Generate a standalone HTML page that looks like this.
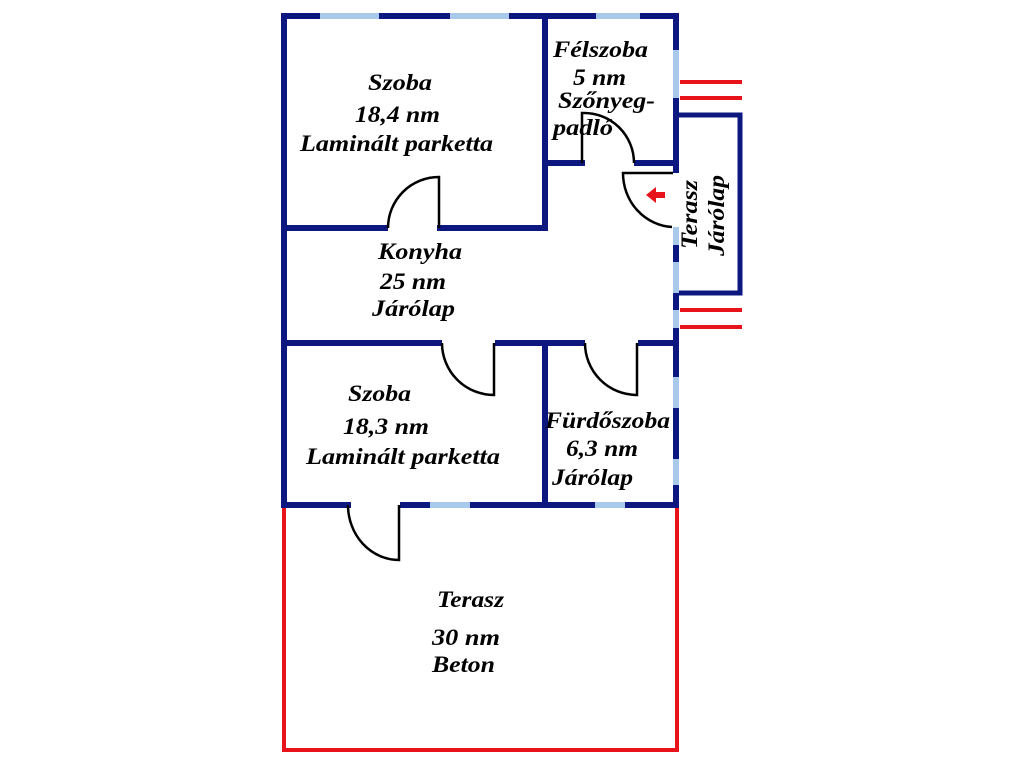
<!DOCTYPE html>
<html><head><meta charset="utf-8"><style>
html,body{margin:0;padding:0;background:#fff;}
svg{display:block}
text{font-family:"Liberation Serif",serif;font-weight:bold;font-style:italic;font-size:23px;fill:#000;}
</style></head><body>
<svg width="1024" height="768" viewBox="0 0 1024 768" xmlns="http://www.w3.org/2000/svg">
<g stroke="#e8141c" stroke-width="4" fill="none">
<polyline points="284,508 284,750 677,750 677,508"/>
<line x1="680" y1="82" x2="742" y2="82"/><line x1="680" y1="98" x2="742" y2="98"/>
<line x1="680" y1="310" x2="742" y2="310"/><line x1="680" y1="327" x2="742" y2="327"/>
</g>
<g stroke="#a9c9ea" stroke-width="6">
<line x1="317" y1="16" x2="382" y2="16"/><line x1="447" y1="16" x2="512" y2="16"/><line x1="593" y1="16" x2="643" y2="16"/>
<line x1="676" y1="50" x2="676" y2="98"/><line x1="676" y1="227" x2="676" y2="245"/><line x1="676" y1="262" x2="676" y2="293"/>
<line x1="676" y1="310" x2="676" y2="328"/><line x1="676" y1="377" x2="676" y2="408"/><line x1="676" y1="459" x2="676" y2="488"/>
<line x1="430" y1="505" x2="470" y2="505"/><line x1="595" y1="505" x2="625" y2="505"/>
</g>
<g stroke="#0c1880" stroke-width="6" fill="none" stroke-linecap="square">
<line x1="284" y1="16" x2="284" y2="505"/>
<line x1="284" y1="16" x2="317" y2="16"/><line x1="382" y1="16" x2="447" y2="16"/><line x1="512" y1="16" x2="593" y2="16"/><line x1="643" y1="16" x2="676" y2="16"/>
<line x1="676" y1="16" x2="676" y2="50" stroke-linecap="butt"/><line x1="676" y1="98" x2="676" y2="173" stroke-linecap="butt"/>
<line x1="676" y1="245" x2="676" y2="262" stroke-linecap="butt"/><line x1="676" y1="293" x2="676" y2="310" stroke-linecap="butt"/>
<line x1="676" y1="328" x2="676" y2="377" stroke-linecap="butt"/><line x1="676" y1="408" x2="676" y2="459" stroke-linecap="butt"/>
<line x1="676" y1="488" x2="676" y2="505"/>
<line x1="284" y1="505" x2="348" y2="505"/><line x1="400" y1="505" x2="430" y2="505" stroke-linecap="butt"/><line x1="470" y1="505" x2="595" y2="505" stroke-linecap="butt"/><line x1="625" y1="505" x2="676" y2="505" stroke-linecap="butt"/>
<line x1="284" y1="343" x2="442" y2="343" stroke-linecap="butt"/><line x1="495" y1="343" x2="585" y2="343" stroke-linecap="butt"/><line x1="638" y1="343" x2="676" y2="343" stroke-linecap="butt"/>
<line x1="545" y1="343" x2="545" y2="505" stroke-linecap="butt"/>
<line x1="284" y1="228" x2="388" y2="228" stroke-linecap="butt"/><line x1="440" y1="228" x2="545" y2="228"/>
<line x1="545" y1="16" x2="545" y2="228"/>
<line x1="545" y1="163" x2="582" y2="163"/><line x1="634" y1="163" x2="676" y2="163" stroke-linecap="butt"/>
</g>
<g stroke="#0c1880" stroke-width="5" fill="none">
<polyline points="679,115 740,115 740,293 679,293"/>
</g>
<g stroke="#000" stroke-width="2.5" fill="none">
<path d="M582,163 L582,113 A50,50 0 0 1 634,163"/>
<path d="M439,228 L439,177 A51,51 0 0 0 388,228"/>
<path d="M673,173 L623,173 A52,54 0 0 0 672,227"/>
<path d="M494,343 L494,395 A52,52 0 0 1 442,343"/>
<path d="M637,343 L637,395 A52,52 0 0 1 585,343"/>
<path d="M399,505 L399,560 A51,55 0 0 1 348,505"/>
</g>
<polygon points="646,195 656,187 656,192 665,192 665,198 656,198 656,203" fill="#e8141c"/>
<g lengthAdjust="spacingAndGlyphs">
<text x="368" y="90" textLength="64" lengthAdjust="spacingAndGlyphs">Szoba</text>
<text x="355" y="122" textLength="85" lengthAdjust="spacingAndGlyphs">18,4 nm</text>
<text x="300" y="151" textLength="193" lengthAdjust="spacingAndGlyphs">Laminált parketta</text>
<text x="553" y="57" textLength="95" lengthAdjust="spacingAndGlyphs">Félszoba</text>
<text x="573" y="85" textLength="53" lengthAdjust="spacingAndGlyphs">5 nm</text>
<text x="558" y="108" textLength="97" lengthAdjust="spacingAndGlyphs">Szőnyeg-</text>
<text x="553" y="135" textLength="60" lengthAdjust="spacingAndGlyphs">padló</text>
<text x="378" y="259" textLength="84" lengthAdjust="spacingAndGlyphs">Konyha</text>
<text x="380" y="289" textLength="66" lengthAdjust="spacingAndGlyphs">25 nm</text>
<text x="372" y="316" textLength="83" lengthAdjust="spacingAndGlyphs">Járólap</text>
<text x="348" y="401" textLength="63" lengthAdjust="spacingAndGlyphs">Szoba</text>
<text x="343" y="434" textLength="86" lengthAdjust="spacingAndGlyphs">18,3 nm</text>
<text x="306" y="464" textLength="194" lengthAdjust="spacingAndGlyphs">Laminált parketta</text>
<text x="545" y="428" textLength="125" lengthAdjust="spacingAndGlyphs">Fürdőszoba</text>
<text x="566" y="456" textLength="72" lengthAdjust="spacingAndGlyphs">6,3 nm</text>
<text x="552" y="485" textLength="81" lengthAdjust="spacingAndGlyphs">Járólap</text>
<text x="437" y="607" textLength="67" lengthAdjust="spacingAndGlyphs">Terasz</text>
<text x="432" y="645" textLength="68" lengthAdjust="spacingAndGlyphs">30 nm</text>
<text x="432" y="672" textLength="63" lengthAdjust="spacingAndGlyphs">Beton</text>
<text transform="translate(697,249) rotate(-90)" textLength="69" lengthAdjust="spacingAndGlyphs">Terasz</text>
<text transform="translate(724,256) rotate(-90)" textLength="81" lengthAdjust="spacingAndGlyphs">Járólap</text>
</g>
</svg>
</body></html>
